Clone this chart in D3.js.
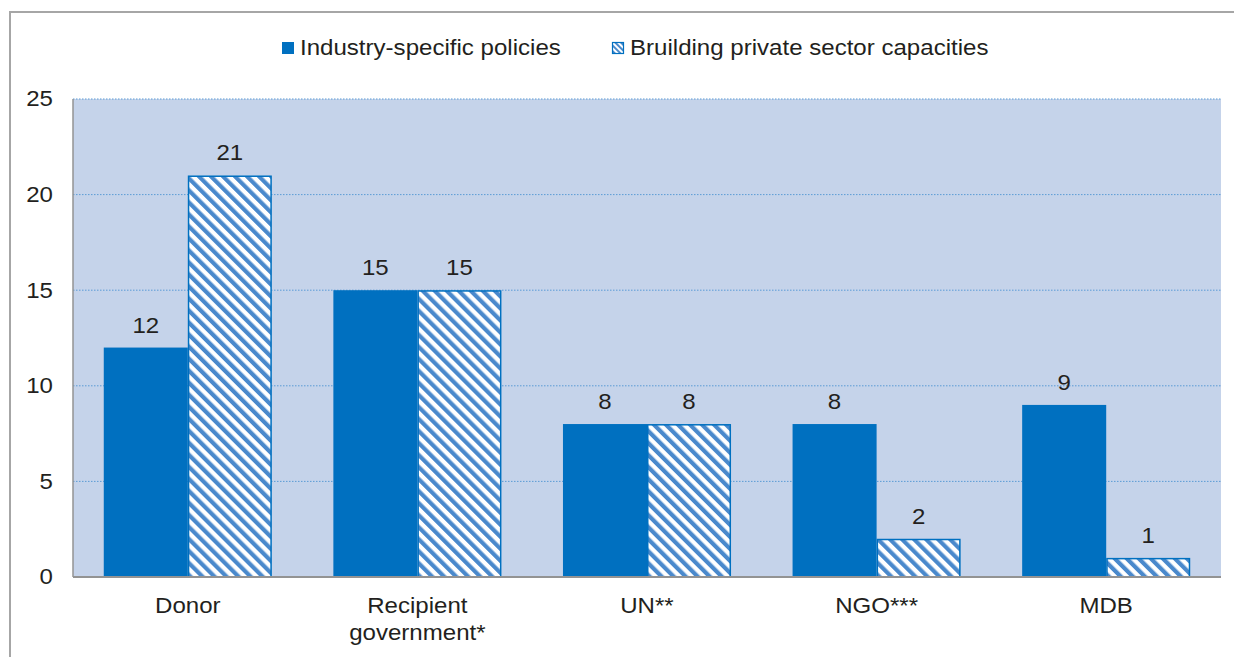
<!DOCTYPE html>
<html>
<head>
<meta charset="utf-8">
<script src="https://cdn.jsdelivr.net/npm/d3@7"></script>
<style>
  html, body { margin: 0; padding: 0; background: #fff; }
  svg { display: block; font-family: "Liberation Sans", Arial, sans-serif; }
</style>
</head>
<body>
<svg id="chart" width="1236" height="657"></svg>
<script>
// Categories and series values
const categories = ["Donor", "Recipient\ngovernment*", "UN**", "NGO***", "MDB"];
const industryPolicies = [12, 15, 8, 8, 9];
const privateSectorCapacities = [21, 15, 8, 2, 1];
const seriesNames = ["Industry-specific policies", "Bruilding private sector capacities"];
const yTicks = [0, 5, 10, 15, 20, 25];

const W = 1236, H = 657;
const plot = { left: 73, right: 1221, top: 99, bottom: 577 };
const solidBlue = "#0070C0";
const stripeBlue = "#4A89CC";
const textColor = "#231F20";
const fontSize = 21.5;
const widen = 1.12; // slightly wide lettering

const svg = d3.select("#chart");

// Widen text horizontally around its anchor point
function stretch(sel) {
  sel.each(function () {
    const x = +this.getAttribute("x") || 0;
    this.setAttribute("transform", `translate(${x},0) scale(${widen},1) translate(${-x},0)`);
  });
}

// Hatch pattern for the second series
const defs = svg.append("defs");
const pat = defs.append("pattern")
  .attr("id", "hatch")
  .attr("patternUnits", "userSpaceOnUse")
  .attr("width", 8.5).attr("height", 8.5)
  .attr("patternTransform", "rotate(-45)");
pat.append("rect").attr("width", 8.5).attr("height", 8.5).attr("fill", "#fff");
pat.append("rect").attr("width", 4.2).attr("height", 8.5).attr("fill", stripeBlue);

const legendPat = defs.append("pattern")
  .attr("id", "hatchSmall")
  .attr("patternUnits", "userSpaceOnUse")
  .attr("width", 4).attr("height", 4)
  .attr("patternTransform", "rotate(-45)");
legendPat.append("rect").attr("width", 4).attr("height", 4).attr("fill", "#fff");
legendPat.append("rect").attr("width", 2).attr("height", 4).attr("fill", stripeBlue);

// Outer frame (top and left edges)
svg.append("line").attr("x1", 10).attr("x2", 1234).attr("y1", 12).attr("y2", 12)
  .attr("stroke", "#A6A6A6").attr("stroke-width", 2);
svg.append("line").attr("x1", 10).attr("x2", 10).attr("y1", 11).attr("y2", H)
  .attr("stroke", "#A6A6A6").attr("stroke-width", 2);

// Scales
const x0 = d3.scaleBand().domain(d3.range(categories.length))
  .range([plot.left, plot.right]).paddingInner(0.268).paddingOuter(0.134);
const x1 = d3.scaleBand().domain([0, 1]).range([0, x0.bandwidth()]);
const y = d3.scaleLinear().domain([0, 25]).range([plot.bottom, plot.top]);

// Plot area background
svg.append("rect")
  .attr("x", plot.left).attr("y", plot.top)
  .attr("width", plot.right - plot.left).attr("height", plot.bottom - plot.top)
  .attr("fill", "#C5D3EA");

// Gridlines
svg.append("g").selectAll("line").data(yTicks.filter(d => d > 0)).join("line")
  .attr("x1", plot.left).attr("x2", plot.right)
  .attr("y1", d => y(d)).attr("y2", d => y(d))
  .attr("stroke", "#5B9BD5").attr("stroke-width", 1)
  .attr("stroke-dasharray", "1.5,1.5");

// Y axis labels
const yAxis = d3.axisLeft(y).tickValues(yTicks).tickSize(0).tickPadding(0);
const yg = svg.append("g").attr("transform", `translate(53,0)`).call(yAxis);
yg.select(".domain").remove();
yg.selectAll("text").attr("font-size", fontSize).attr("fill", textColor)
  .attr("font-family", "Liberation Sans, Arial, sans-serif")
  .call(stretch);

// Bars
const groups = svg.append("g").selectAll("g").data(categories).join("g")
  .attr("transform", (d, i) => `translate(${x0(i)},0)`);

groups.append("rect")
  .attr("x", x1(0)).attr("width", x1.bandwidth())
  .attr("y", (d, i) => y(industryPolicies[i]))
  .attr("height", (d, i) => y(0) - y(industryPolicies[i]))
  .attr("fill", solidBlue);

groups.append("rect")
  .attr("x", x1(1) + 0.75).attr("width", x1.bandwidth() - 1.5)
  .attr("y", (d, i) => y(privateSectorCapacities[i]) + 0.75)
  .attr("height", (d, i) => y(0) - y(privateSectorCapacities[i]) - 0.75)
  .attr("fill", "url(#hatch)")
  .attr("stroke", solidBlue).attr("stroke-width", 1.5);

// Value labels
groups.append("text")
  .attr("x", x1(0) + x1.bandwidth() / 2)
  .attr("y", (d, i) => y(industryPolicies[i]) - 15)
  .attr("text-anchor", "middle").attr("font-size", fontSize).attr("fill", textColor)
  .text((d, i) => industryPolicies[i])
  .call(stretch);
groups.append("text")
  .attr("x", x1(1) + x1.bandwidth() / 2)
  .attr("y", (d, i) => y(privateSectorCapacities[i]) - 15)
  .attr("text-anchor", "middle").attr("font-size", fontSize).attr("fill", textColor)
  .text((d, i) => privateSectorCapacities[i])
  .call(stretch);

// Axis lines
svg.append("line").attr("x1", plot.left).attr("x2", plot.left)
  .attr("y1", plot.top).attr("y2", plot.bottom)
  .attr("stroke", "#939393").attr("stroke-width", 1.5);
svg.append("line").attr("x1", plot.left).attr("x2", plot.right)
  .attr("y1", plot.bottom).attr("y2", plot.bottom)
  .attr("stroke", "#939393").attr("stroke-width", 2);

// Category labels (one text per line)
groups.each(function (d) {
  const g = d3.select(this);
  d.split("\n").forEach((line, i) => {
    g.append("text")
      .attr("x", x0.bandwidth() / 2)
      .attr("y", 613 + i * 27)
      .attr("text-anchor", "middle").attr("font-size", fontSize).attr("fill", textColor)
      .text(line)
      .call(stretch);
  });
});

// Legend
const legend = [
  { name: seriesNames[0], x: 282, fill: solidBlue, hatched: false },
  { name: seriesNames[1], x: 612, fill: "url(#hatchSmall)", hatched: true }
];
const lg = svg.append("g").selectAll("g").data(legend).join("g");
lg.append("rect")
  .attr("x", d => d.x + (d.hatched ? 0.5 : 0)).attr("y", d => 42 + (d.hatched ? 0.5 : 0))
  .attr("width", d => d.hatched ? 11 : 12).attr("height", d => d.hatched ? 11 : 12)
  .attr("fill", d => d.fill)
  .attr("stroke", d => d.hatched ? solidBlue : "none").attr("stroke-width", 1.2);
lg.append("text")
  .attr("x", d => d.x + 18).attr("y", 55)
  .attr("font-size", fontSize).attr("fill", textColor)
  .text(d => d.name)
  .call(stretch);
</script>
</body>
</html>
